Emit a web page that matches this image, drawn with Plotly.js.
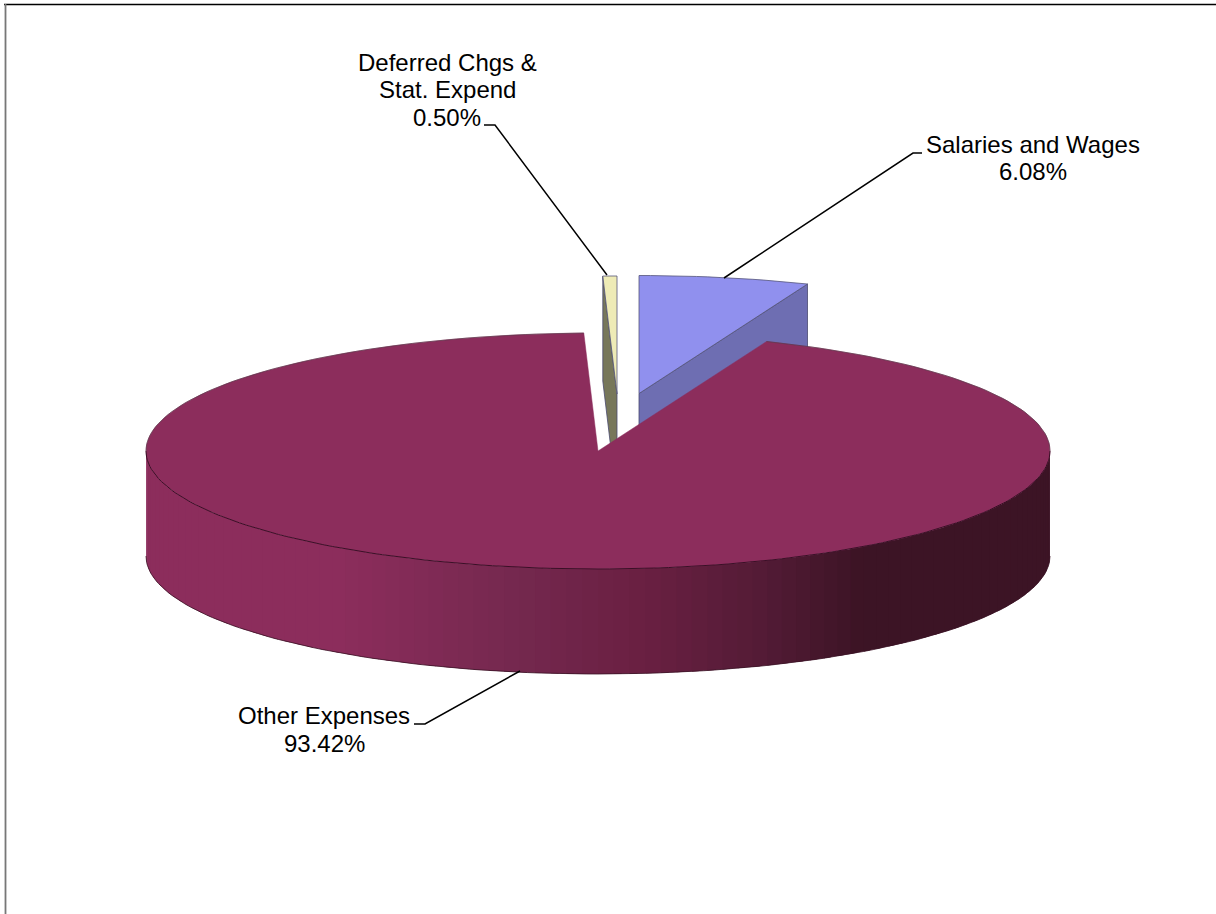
<!DOCTYPE html>
<html>
<head>
<meta charset="utf-8">
<script src="https://cdn.plot.ly/plotly-3.0.1.min.js"></script>
<style>html,body{margin:0;padding:0;background:#fff}#chart{width:1216px;height:914px}</style>
</head>
<body>
<div id="chart"></div>
<script>
// Data
const categories = ["Salaries and Wages", "Other Expenses", "Deferred Chgs &\nStat. Expend"];
const shares = [6.08, 93.42, 0.50];
const topColors = ["#9090EE", "#8C2D5C", "#EEEBB6"];
const sideColors = ["#6E6EB2", "#8C2D5C", "#77775A"];

// Pie projection (pixel scale of the hidden axes)
const CX = 598, CY = 451, RX = 452, RY = 118, DEPTH = 105;
const explode = [[41, -57.5], [0, 0], [19, -57]];

const pt = (deg, ox, oy, dz) => {
  const r = deg * Math.PI / 180;
  return [CX + ox + RX * Math.sin(r), CY + oy - RY * Math.cos(r) + (dz || 0)];
};
const arc = (a0, a1, ox, oy, dz) => {
  const n = Math.max(2, Math.ceil(Math.abs(a1 - a0) / 1.5));
  const out = [];
  for (let i = 0; i <= n; i++) out.push(pt(a0 + (a1 - a0) * i / n, ox, oy, dz));
  return out;
};
const traces = [];
const poly = (pts, fill, line, w) => traces.push({
  type: "scatter", mode: w ? "lines" : "none", hoverinfo: "skip", showlegend: false,
  x: pts.map(p => p[0]), y: pts.map(p => p[1]), fill: "toself", fillcolor: fill,
  line: {color: line || fill, width: w || 0}
});
const stroke = (pts, color, w) => traces.push({
  type: "scatter", mode: "lines", hoverinfo: "skip", showlegend: false,
  x: pts.map(p => p[0]), y: pts.map(p => p[1]), line: {color: color, width: w}
});

// Slice spans: clockwise from 12 o'clock, in chart order
const total = shares.reduce((a, b) => a + b, 0);
const spans = [];
let acc = 0;
shares.forEach(v => { const s = acc; acc += v / total * 360; spans.push([s, acc]); });

// Exploded slices behind the big one: side wall, then top
[0, 2].forEach(i => {
  const [a0, a1] = spans[i], [ox, oy] = explode[i];
  const apex = [CX + ox, CY + oy];
  const wallAngle = i === 0 ? a1 : a0;
  const e = pt(wallAngle, ox, oy);
  poly([apex, e, [e[0], e[1] + DEPTH], [apex[0], apex[1] + DEPTH], apex], sideColors[i], "#4A4A70", 0.8);
  poly([apex].concat(arc(a0, a1, ox, oy)).concat([apex]), topColors[i], "#55557A", 0.8);
});

// Big slice: shaded outer wall in vertical bands, each band overlapped by the next
const stops = [[147, [140,45,92]], [340, [140,45,92]], [520, [116,40,78]], [640, [106,32,66]], [760, [84,27,54]], [860, [60,20,37]], [1051, [60,20,37]]];
const shade = x => {
  for (let i = 1; i < stops.length; i++) {
    if (x <= stops[i][0]) {
      const t = (x - stops[i-1][0]) / (stops[i][0] - stops[i-1][0]);
      const c = stops[i-1][1].map((v, k) => Math.round(v + (stops[i][1][k] - v) * t));
      return "rgb(" + c.join(",") + ")";
    }
  }
  return "rgb(60,20,37)";
};
const BANDS = 90;
for (let b = 0; b < BANDS; b++) {
  const a0 = 270 - 180 * b / BANDS;
  const a1 = Math.max(90, 270 - 180 * (b + 1) / BANDS - 1);
  const top = arc(a0, a1, 0, 0), bot = arc(a1, a0, 0, 0, DEPTH);
  poly(top.concat(bot), shade(pt(a0 - 1, 0, 0)[0]));
}
stroke(arc(270, 90, 0, 0, DEPTH), "#3A1225", 0.8);

// Big slice: top face, with a thin dark outline
const [o0, o1] = spans[1];
const apex = [CX, CY];
poly([apex].concat(arc(o0, o1, 0, 0)).concat([apex]), topColors[1], topColors[1], 0.5);
stroke(arc(o0, 90, 0, 0), "#5A3A4A", 0.7);
stroke(arc(270, o1, 0, 0), "#5A3A4A", 0.7);
stroke(arc(90, 270, 0, 0), "#3A0F26", 1);

// Labels
const labelLines = [
  {i: 0, x: 1033, y: [144, 171]},
  {i: 1, x: 324, y: [715, 743]},
  {i: 2, x: 447, y: [62, 89, 117]}
];
const annotations = [];
labelLines.forEach(l => {
  const lines = categories[l.i].split("\n").concat([shares[l.i].toFixed(2) + "%"]);
  lines.forEach((t, k) => annotations.push({
    xref: "x", yref: "y", x: l.x, y: l.y[k], text: t, showarrow: false,
    xanchor: "center", yanchor: "middle",
    font: {family: "Liberation Sans, Arial, sans-serif", size: 24, color: "#000"}
  }));
});

// Leader lines
const leaders = [
  [[724, 278], [913, 153], [922, 153]],
  [[607, 275], [495, 125], [484, 125]],
  [[520, 671], [425, 724], [414, 724]]
];
const shapes = leaders.map(L => ({
  type: "path", xref: "x", yref: "y",
  path: "M" + L.map(p => p.join(",")).join("L"),
  line: {color: "#000", width: 1.5}
}));
// Chart frame: top and left edges only
shapes.push({type: "line", xref: "x", yref: "y", x0: 4, y0: 4.5, x1: 1216, y1: 4.5, line: {color: "#000", width: 1.4}});
shapes.push({type: "line", xref: "x", yref: "y", x0: 5.5, y0: 4, x1: 5.5, y1: 914, line: {color: "#777", width: 1.8}});

const hidden = {visible: false, fixedrange: true};
Plotly.newPlot("chart", traces, {
  width: 1216, height: 914, margin: {l: 0, r: 0, t: 0, b: 0},
  paper_bgcolor: "#fff", plot_bgcolor: "#fff", showlegend: false,
  xaxis: Object.assign({range: [0, 1216]}, hidden),
  yaxis: Object.assign({range: [914, 0]}, hidden),
  annotations: annotations, shapes: shapes
}, {displayModeBar: false, staticPlot: true});
</script>
</body>
</html>
